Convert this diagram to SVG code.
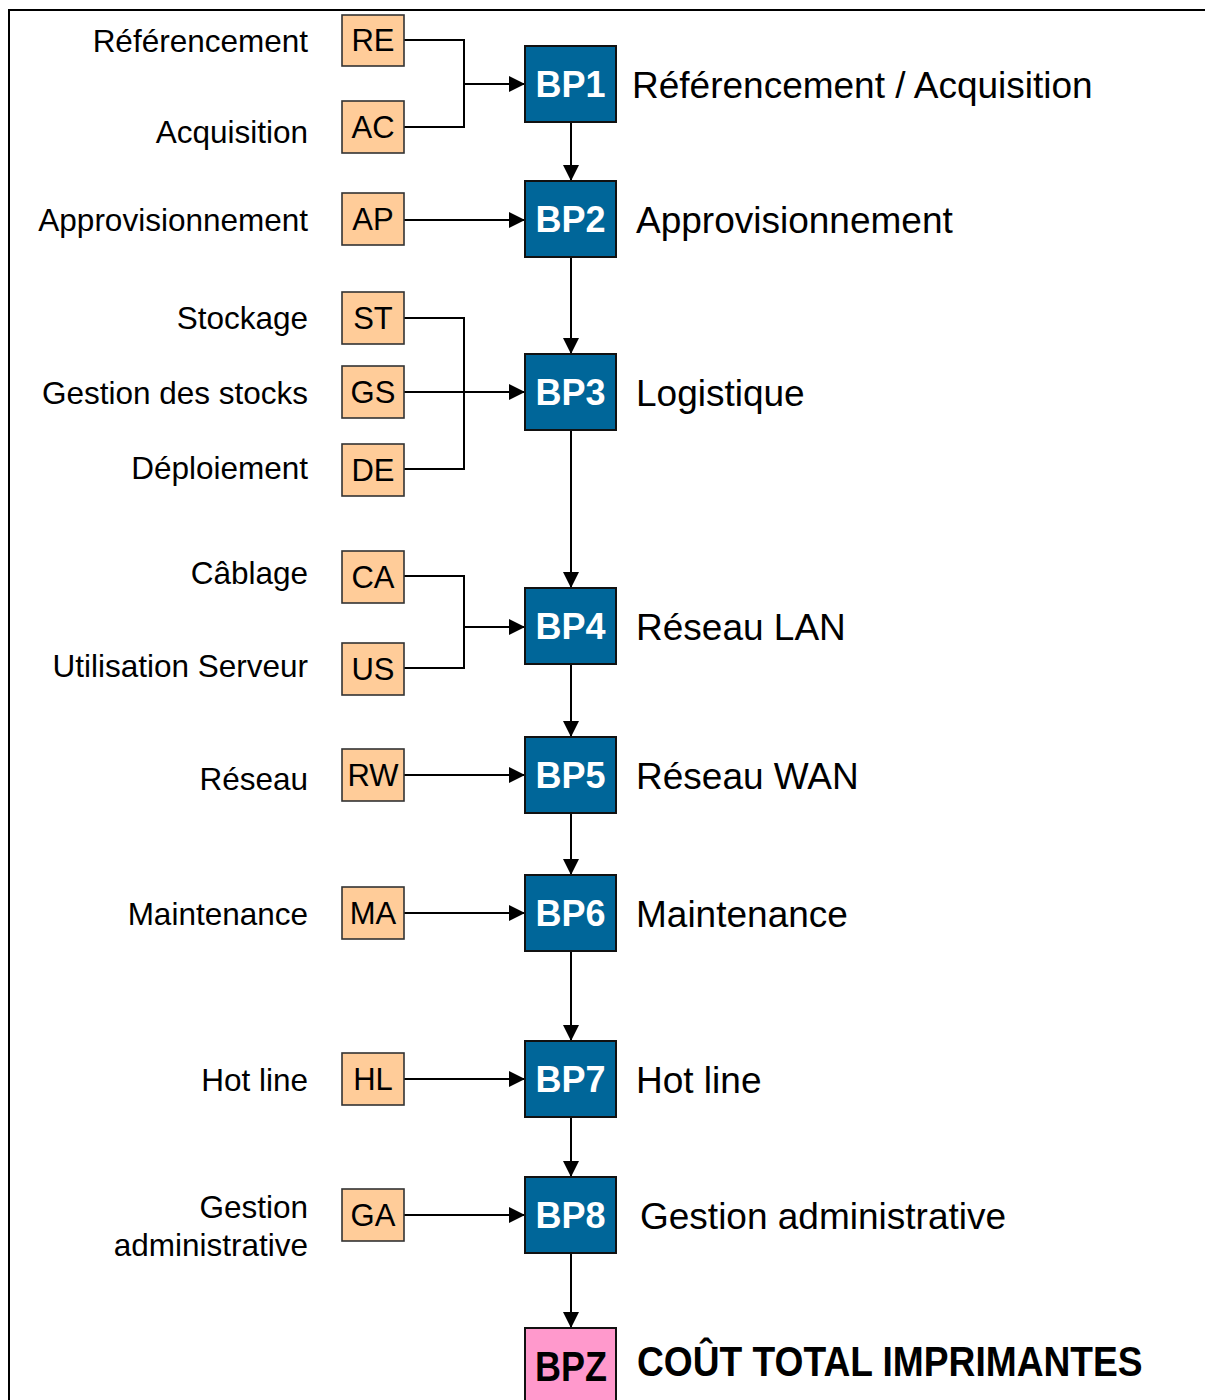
<svg xmlns="http://www.w3.org/2000/svg" width="1205" height="1400" viewBox="0 0 1205 1400">
<style>
.lbl{font-family:"Liberation Sans",Arial,sans-serif;font-size:31.5px;fill:#000;text-anchor:end}
.rl{font-family:"Liberation Sans",Arial,sans-serif;font-size:37px;fill:#000}
.ob{fill:#FFCC99;stroke:#333;stroke-width:1.6}
.ot{font-family:"Liberation Sans",Arial,sans-serif;font-size:31px;fill:#000;text-anchor:middle}
.bb{fill:#006699;stroke:#111;stroke-width:2}
.bt{font-family:"Liberation Sans",Arial,sans-serif;font-size:36px;font-weight:bold;fill:#fff;text-anchor:middle}
.zt{font-family:"Liberation Sans",Arial,sans-serif;font-size:43px;font-weight:bold;fill:#000}
.c{fill:none;stroke:#000;stroke-width:2}
</style>
<defs>
<marker id="ah" markerUnits="userSpaceOnUse" markerWidth="16" markerHeight="16" refX="16" refY="8" orient="auto" viewBox="0 0 16 16">
<path d="M0,0 L16,8 L0,16 z" fill="#000"/>
</marker>
</defs>
<rect width="1205" height="1400" fill="#fff"/>
<path d="M9,1400 V10 H1205" fill="none" stroke="#000" stroke-width="2"/>

<g id="connectors">
<path class="c" d="M404,40 H464 V127 H404"/>
<path class="c" d="M464,84 H525" marker-end="url(#ah)"/>
<path class="c" d="M404,220 H525" marker-end="url(#ah)"/>
<path class="c" d="M404,318 H464 V469 H404"/>
<path class="c" d="M404,392 H525" marker-end="url(#ah)"/>
<path class="c" d="M404,576 H464 V668 H404"/>
<path class="c" d="M464,627 H525" marker-end="url(#ah)"/>
<path class="c" d="M404,775 H525" marker-end="url(#ah)"/>
<path class="c" d="M404,913 H525" marker-end="url(#ah)"/>
<path class="c" d="M404,1079 H525" marker-end="url(#ah)"/>
<path class="c" d="M404,1215 H525" marker-end="url(#ah)"/>
<path class="c" d="M571,122 V181" marker-end="url(#ah)"/>
<path class="c" d="M571,257 V354" marker-end="url(#ah)"/>
<path class="c" d="M571,430 V588" marker-end="url(#ah)"/>
<path class="c" d="M571,664 V737" marker-end="url(#ah)"/>
<path class="c" d="M571,813 V875" marker-end="url(#ah)"/>
<path class="c" d="M571,951 V1041" marker-end="url(#ah)"/>
<path class="c" d="M571,1117 V1177" marker-end="url(#ah)"/>
<path class="c" d="M571,1253 V1328" marker-end="url(#ah)"/>
</g>

<g id="RE"><text class="lbl" x="308" y="52">Référencement</text><rect class="ob" x="342" y="15" width="62" height="51"/><text class="ot" x="373" y="51">RE</text></g>
<g id="AC"><text class="lbl" x="308" y="143">Acquisition</text><rect class="ob" x="342" y="101" width="62" height="52"/><text class="ot" x="373" y="138">AC</text></g>
<g id="AP"><text class="lbl" x="308" y="231">Approvisionnement</text><rect class="ob" x="342" y="193" width="62" height="52"/><text class="ot" x="373" y="230">AP</text></g>
<g id="ST"><text class="lbl" x="308" y="329">Stockage</text><rect class="ob" x="342" y="292" width="62" height="52"/><text class="ot" x="373" y="329">ST</text></g>
<g id="GS"><text class="lbl" x="308" y="404">Gestion des stocks</text><rect class="ob" x="342" y="366" width="62" height="52"/><text class="ot" x="373" y="403">GS</text></g>
<g id="DE"><text class="lbl" x="308" y="479">Déploiement</text><rect class="ob" x="342" y="444" width="62" height="52"/><text class="ot" x="373" y="481">DE</text></g>
<g id="CA"><text class="lbl" x="308" y="584">Câblage</text><rect class="ob" x="342" y="551" width="62" height="52"/><text class="ot" x="373" y="588">CA</text></g>
<g id="US"><text class="lbl" x="308" y="677">Utilisation Serveur</text><rect class="ob" x="342" y="643" width="62" height="52"/><text class="ot" x="373" y="680">US</text></g>
<g id="RW"><text class="lbl" x="308" y="790">Réseau</text><rect class="ob" x="342" y="749" width="62" height="52"/><text class="ot" x="373" y="786">RW</text></g>
<g id="MA"><text class="lbl" x="308" y="925">Maintenance</text><rect class="ob" x="342" y="887" width="62" height="52"/><text class="ot" x="373" y="924">MA</text></g>
<g id="HL"><text class="lbl" x="308" y="1091">Hot line</text><rect class="ob" x="342" y="1053" width="62" height="52"/><text class="ot" x="373" y="1090">HL</text></g>
<g id="GA"><text class="lbl" x="308" y="1218">Gestion</text><text class="lbl" x="308" y="1256">administrative</text><rect class="ob" x="342" y="1189" width="62" height="52"/><text class="ot" x="373" y="1226">GA</text></g>

<g id="BP1"><rect class="bb" x="525" y="46" width="91" height="76"/><text class="bt" x="570.5" y="97">BP1</text><text class="rl" x="632" y="98">Référencement / Acquisition</text></g>
<g id="BP2"><rect class="bb" x="525" y="181" width="91" height="76"/><text class="bt" x="570.5" y="232">BP2</text><text class="rl" x="636" y="233">Approvisionnement</text></g>
<g id="BP3"><rect class="bb" x="525" y="354" width="91" height="76"/><text class="bt" x="570.5" y="405">BP3</text><text class="rl" x="636" y="406">Logistique</text></g>
<g id="BP4"><rect class="bb" x="525" y="588" width="91" height="76"/><text class="bt" x="570.5" y="639">BP4</text><text class="rl" x="636" y="640">Réseau LAN</text></g>
<g id="BP5"><rect class="bb" x="525" y="737" width="91" height="76"/><text class="bt" x="570.5" y="788">BP5</text><text class="rl" x="636" y="789">Réseau WAN</text></g>
<g id="BP6"><rect class="bb" x="525" y="875" width="91" height="76"/><text class="bt" x="570.5" y="926">BP6</text><text class="rl" x="636" y="927">Maintenance</text></g>
<g id="BP7"><rect class="bb" x="525" y="1041" width="91" height="76"/><text class="bt" x="570.5" y="1092">BP7</text><text class="rl" x="636" y="1093">Hot line</text></g>
<g id="BP8"><rect class="bb" x="525" y="1177" width="91" height="76"/><text class="bt" x="570.5" y="1228">BP8</text><text class="rl" x="640" y="1229">Gestion administrative</text></g>
<g id="BPZ"><rect x="525" y="1328" width="91" height="80" fill="#FF99CC" stroke="#111" stroke-width="2"/><text class="zt" transform="translate(535,1381) scale(0.837,1)" x="0" y="0">BPZ</text><text class="zt" transform="translate(637,1376) scale(0.864,1)" x="0" y="0">COÛT TOTAL IMPRIMANTES</text></g>
</svg>
